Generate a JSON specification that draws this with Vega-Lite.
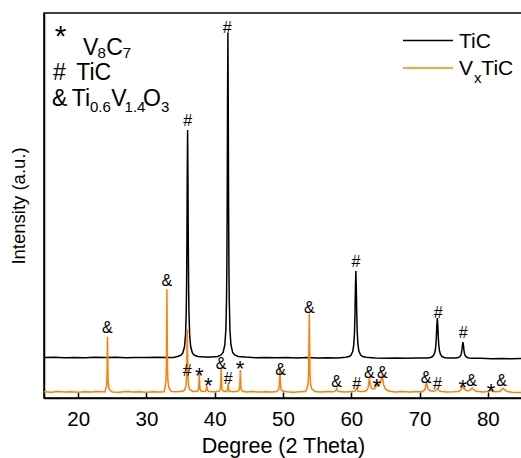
{
"$schema": "https://vega.github.io/schema/vega-lite/v6.json",
"width": 478, "height": 385,
"autosize": {"type": "none"},
"padding": {"left": 44, "top": 13, "right": 0, "bottom": 60},
"view": {"stroke": "#000000", "strokeWidth": 1.5},
"config": {"font": "Liberation Sans"},
"datasets": {
"curves": [
{"series":"TiC","x":15,"y":40.5},{"series":"TiC","x":16.5,"y":40.8},{"series":"TiC","x":18,"y":40.2},{"series":"TiC","x":19.5,"y":40.6},{"series":"TiC","x":21,"y":40.3},{"series":"TiC","x":22.5,"y":40.7},{"series":"TiC","x":24,"y":40.4},{"series":"TiC","x":25.5,"y":40.8},{"series":"TiC","x":27,"y":40.3},{"series":"TiC","x":28.5,"y":40.6},{"series":"TiC","x":30,"y":40.4},{"series":"TiC","x":31.5,"y":40.7},{"series":"TiC","x":33,"y":40.5},{"series":"TiC","x":34,"y":40.6},
{"series":"TiC","x":34.53,"y":41.5},{"series":"TiC","x":35.03,"y":42.75},{"series":"TiC","x":35.33,"y":45},{"series":"TiC","x":35.58,"y":51.2},{"series":"TiC","x":35.73,"y":63.25},{"series":"TiC","x":35.83,"y":86},{"series":"TiC","x":35.88,"y":110.5},{"series":"TiC","x":35.93,"y":154.25},{"series":"TiC","x":35.98,"y":222.5},{"series":"TiC","x":36.03,"y":268},{"series":"TiC","x":36.08,"y":222.5},{"series":"TiC","x":36.13,"y":154.25},{"series":"TiC","x":36.18,"y":110.5},{"series":"TiC","x":36.23,"y":86},{"series":"TiC","x":36.33,"y":63.25},{"series":"TiC","x":36.48,"y":51.2},{"series":"TiC","x":36.73,"y":45},{"series":"TiC","x":37.03,"y":42.75},{"series":"TiC","x":37.53,"y":41.5},
{"series":"TiC","x":38.5,"y":40.9},{"series":"TiC","x":39.5,"y":41.1},
{"series":"TiC","x":40.43,"y":41.6},{"series":"TiC","x":40.93,"y":43},{"series":"TiC","x":41.23,"y":45.5},{"series":"TiC","x":41.48,"y":53},{"series":"TiC","x":41.63,"y":68},{"series":"TiC","x":41.73,"y":98},{"series":"TiC","x":41.78,"y":132},{"series":"TiC","x":41.83,"y":195},{"series":"TiC","x":41.88,"y":295},{"series":"TiC","x":41.93,"y":365},{"series":"TiC","x":41.98,"y":295},{"series":"TiC","x":42.03,"y":195},{"series":"TiC","x":42.08,"y":132},{"series":"TiC","x":42.13,"y":98},{"series":"TiC","x":42.23,"y":68},{"series":"TiC","x":42.38,"y":53},{"series":"TiC","x":42.63,"y":45.5},{"series":"TiC","x":42.93,"y":43},{"series":"TiC","x":43.43,"y":41.6},
{"series":"TiC","x":44.5,"y":40.9},{"series":"TiC","x":46,"y":40.3},{"series":"TiC","x":47.5,"y":40.6},{"series":"TiC","x":49,"y":40.2},{"series":"TiC","x":50.5,"y":40.5},{"series":"TiC","x":52,"y":40.1},{"series":"TiC","x":53.5,"y":40.4},{"series":"TiC","x":55,"y":40.0},{"series":"TiC","x":56.5,"y":40.3},{"series":"TiC","x":58,"y":40.1},
{"series":"TiC","x":59.17,"y":40.65},{"series":"TiC","x":59.67,"y":41.4},{"series":"TiC","x":59.97,"y":42.9},{"series":"TiC","x":60.22,"y":46.7},{"series":"TiC","x":60.37,"y":53.7},{"series":"TiC","x":60.47,"y":65.8},{"series":"TiC","x":60.54,"y":83.5},{"series":"TiC","x":60.605,"y":109.6},{"series":"TiC","x":60.67,"y":127},{"series":"TiC","x":60.735,"y":109.6},{"series":"TiC","x":60.8,"y":83.5},{"series":"TiC","x":60.87,"y":65.8},{"series":"TiC","x":60.97,"y":53.7},{"series":"TiC","x":61.12,"y":46.7},{"series":"TiC","x":61.37,"y":42.9},{"series":"TiC","x":61.67,"y":41.4},{"series":"TiC","x":62.17,"y":40.65},
{"series":"TiC","x":63.5,"y":40.0},{"series":"TiC","x":65,"y":39.8},{"series":"TiC","x":66.5,"y":40.1},{"series":"TiC","x":68,"y":39.7},{"series":"TiC","x":69.5,"y":40.0},
{"series":"TiC","x":71.1,"y":40.1},{"series":"TiC","x":71.6,"y":40.59},{"series":"TiC","x":71.9,"y":41.47},{"series":"TiC","x":72.15,"y":43.73},{"series":"TiC","x":72.3,"y":47.76},{"series":"TiC","x":72.38,"y":52.5},{"series":"TiC","x":72.45,"y":59.85},{"series":"TiC","x":72.525,"y":71.9},{"series":"TiC","x":72.6,"y":80},{"series":"TiC","x":72.675,"y":71.9},{"series":"TiC","x":72.75,"y":59.85},{"series":"TiC","x":72.82,"y":52.5},{"series":"TiC","x":72.9,"y":47.76},{"series":"TiC","x":73.05,"y":43.73},{"series":"TiC","x":73.3,"y":41.47},{"series":"TiC","x":73.6,"y":40.59},{"series":"TiC","x":74.1,"y":40.1},{"series":"TiC","x":74.85,"y":39.9},
{"series":"TiC","x":75.35,"y":40.1},{"series":"TiC","x":75.65,"y":40.4},{"series":"TiC","x":75.9,"y":41.24},{"series":"TiC","x":76.05,"y":42.88},{"series":"TiC","x":76.13,"y":44.8},{"series":"TiC","x":76.2,"y":47.8},{"series":"TiC","x":76.275,"y":52.7},{"series":"TiC","x":76.35,"y":56},{"series":"TiC","x":76.425,"y":52.7},{"series":"TiC","x":76.5,"y":47.8},{"series":"TiC","x":76.57,"y":44.8},{"series":"TiC","x":76.65,"y":42.88},{"series":"TiC","x":76.8,"y":41.24},{"series":"TiC","x":77.05,"y":40.32},{"series":"TiC","x":77.35,"y":39.96},{"series":"TiC","x":77.85,"y":39.76},
{"series":"TiC","x":79,"y":39.7},{"series":"TiC","x":80.5,"y":39.3},{"series":"TiC","x":82,"y":39.6},{"series":"TiC","x":83.5,"y":39.2},{"series":"TiC","x":85,"y":39.4},

{"series":"VxTiC","x":15,"y":6.2},{"series":"VxTiC","x":16,"y":5.8},{"series":"VxTiC","x":17,"y":6.4},{"series":"VxTiC","x":18,"y":5.9},{"series":"VxTiC","x":19,"y":6.3},{"series":"VxTiC","x":20,"y":5.7},{"series":"VxTiC","x":21,"y":6.2},{"series":"VxTiC","x":22,"y":6.0},{"series":"VxTiC","x":23,"y":6.4},{"series":"VxTiC","x":23.9,"y":6.0},
{"series":"VxTiC","x":24.0,"y":8.2},{"series":"VxTiC","x":24.15,"y":11.5},{"series":"VxTiC","x":24.22,"y":19.8},{"series":"VxTiC","x":24.26,"y":39.2},{"series":"VxTiC","x":24.3,"y":61.3},{"series":"VxTiC","x":24.34,"y":39.2},{"series":"VxTiC","x":24.38,"y":19.8},{"series":"VxTiC","x":24.45,"y":11.5},{"series":"VxTiC","x":24.6,"y":8.2},
{"series":"VxTiC","x":25,"y":6.1},{"series":"VxTiC","x":26,"y":5.8},{"series":"VxTiC","x":27,"y":6.4},{"series":"VxTiC","x":28,"y":6.0},{"series":"VxTiC","x":29,"y":6.3},{"series":"VxTiC","x":30,"y":5.8},{"series":"VxTiC","x":31,"y":6.3},{"series":"VxTiC","x":32,"y":6.1},{"series":"VxTiC","x":32.6,"y":6.3},
{"series":"VxTiC","x":32.7,"y":10.1},{"series":"VxTiC","x":32.85,"y":16.3},{"series":"VxTiC","x":32.92,"y":31.7},{"series":"VxTiC","x":32.96,"y":67.6},{"series":"VxTiC","x":33.0,"y":108.7},{"series":"VxTiC","x":33.04,"y":67.6},{"series":"VxTiC","x":33.08,"y":31.7},{"series":"VxTiC","x":33.15,"y":16.3},{"series":"VxTiC","x":33.3,"y":10.1},{"series":"VxTiC","x":33.6,"y":6.6},
{"series":"VxTiC","x":34.2,"y":6.2},{"series":"VxTiC","x":34.9,"y":6.4},{"series":"VxTiC","x":35.4,"y":6.9},
{"series":"VxTiC","x":35.62,"y":8.5},{"series":"VxTiC","x":35.8,"y":12.3},{"series":"VxTiC","x":35.88,"y":21.6},{"series":"VxTiC","x":35.93,"y":43.5},{"series":"VxTiC","x":35.98,"y":68.5},{"series":"VxTiC","x":36.03,"y":43.5},{"series":"VxTiC","x":36.08,"y":21.6},{"series":"VxTiC","x":36.16,"y":12.3},{"series":"VxTiC","x":36.34,"y":8.5},{"series":"VxTiC","x":36.8,"y":6.6},{"series":"VxTiC","x":37.3,"y":6.5},
{"series":"VxTiC","x":37.44,"y":6.7},{"series":"VxTiC","x":37.59,"y":7.8},{"series":"VxTiC","x":37.66,"y":10.5},{"series":"VxTiC","x":37.7,"y":16.8},{"series":"VxTiC","x":37.74,"y":24},{"series":"VxTiC","x":37.78,"y":16.8},{"series":"VxTiC","x":37.82,"y":10.5},{"series":"VxTiC","x":37.89,"y":7.8},{"series":"VxTiC","x":38.04,"y":6.7},
{"series":"VxTiC","x":38.4,"y":6.4},{"series":"VxTiC","x":38.6,"y":6.6},{"series":"VxTiC","x":38.73,"y":7.5},{"series":"VxTiC","x":38.79,"y":9.6},{"series":"VxTiC","x":38.85,"y":12},{"series":"VxTiC","x":38.91,"y":9.6},{"series":"VxTiC","x":38.97,"y":7.5},{"series":"VxTiC","x":39.1,"y":6.6},{"series":"VxTiC","x":39.4,"y":6.2},
{"series":"VxTiC","x":40.0,"y":6.3},{"series":"VxTiC","x":40.5,"y":6.8},
{"series":"VxTiC","x":40.65,"y":7.0},{"series":"VxTiC","x":40.8,"y":8.4},{"series":"VxTiC","x":40.87,"y":12},{"series":"VxTiC","x":40.91,"y":20.4},{"series":"VxTiC","x":40.95,"y":30},{"series":"VxTiC","x":40.99,"y":20.4},{"series":"VxTiC","x":41.03,"y":12},{"series":"VxTiC","x":41.1,"y":8.4},{"series":"VxTiC","x":41.25,"y":7.0},{"series":"VxTiC","x":41.5,"y":6.7},
{"series":"VxTiC","x":41.67,"y":6.4},{"series":"VxTiC","x":41.82,"y":6.9},{"series":"VxTiC","x":41.89,"y":8.25},{"series":"VxTiC","x":41.93,"y":11.4},{"series":"VxTiC","x":41.97,"y":15},{"series":"VxTiC","x":42.01,"y":11.4},{"series":"VxTiC","x":42.05,"y":8.25},{"series":"VxTiC","x":42.12,"y":6.9},{"series":"VxTiC","x":42.27,"y":6.4},
{"series":"VxTiC","x":42.9,"y":6.3},
{"series":"VxTiC","x":43.45,"y":6.9},{"series":"VxTiC","x":43.6,"y":8.2},{"series":"VxTiC","x":43.67,"y":11.5},{"series":"VxTiC","x":43.71,"y":19.2},{"series":"VxTiC","x":43.75,"y":28},{"series":"VxTiC","x":43.79,"y":19.2},{"series":"VxTiC","x":43.83,"y":11.5},{"series":"VxTiC","x":43.9,"y":8.2},{"series":"VxTiC","x":44.05,"y":6.9},
{"series":"VxTiC","x":44.6,"y":6.0},{"series":"VxTiC","x":45.5,"y":6.4},{"series":"VxTiC","x":46.5,"y":5.9},{"series":"VxTiC","x":47.5,"y":6.3},{"series":"VxTiC","x":48.5,"y":6.0},{"series":"VxTiC","x":49.1,"y":6.5},
{"series":"VxTiC","x":49.16,"y":6.9},{"series":"VxTiC","x":49.35,"y":8.3},{"series":"VxTiC","x":49.45,"y":11.8},{"series":"VxTiC","x":49.5,"y":19.8},{"series":"VxTiC","x":49.55,"y":29},{"series":"VxTiC","x":49.6,"y":19.8},{"series":"VxTiC","x":49.65,"y":11.8},{"series":"VxTiC","x":49.75,"y":8.3},{"series":"VxTiC","x":49.94,"y":6.9},
{"series":"VxTiC","x":50.5,"y":6.2},{"series":"VxTiC","x":51.5,"y":5.8},{"series":"VxTiC","x":52.5,"y":6.3},{"series":"VxTiC","x":53.3,"y":6.6},
{"series":"VxTiC","x":53.49,"y":9.1},{"series":"VxTiC","x":53.67,"y":13.9},{"series":"VxTiC","x":53.75,"y":25.7},{"series":"VxTiC","x":53.8,"y":53.2},{"series":"VxTiC","x":53.85,"y":84.7},{"series":"VxTiC","x":53.9,"y":53.2},{"series":"VxTiC","x":53.95,"y":25.7},{"series":"VxTiC","x":54.03,"y":13.9},{"series":"VxTiC","x":54.21,"y":9.1},
{"series":"VxTiC","x":54.7,"y":6.5},{"series":"VxTiC","x":55.5,"y":6.1},{"series":"VxTiC","x":56.5,"y":6.4},{"series":"VxTiC","x":57.3,"y":6.2},
{"series":"VxTiC","x":57.5,"y":6.4},{"series":"VxTiC","x":57.7,"y":7.0},{"series":"VxTiC","x":57.78,"y":8.2},{"series":"VxTiC","x":57.86,"y":9.7},{"series":"VxTiC","x":57.94,"y":8.2},{"series":"VxTiC","x":58.02,"y":7.0},{"series":"VxTiC","x":58.25,"y":6.4},
{"series":"VxTiC","x":59.0,"y":6.0},{"series":"VxTiC","x":59.8,"y":6.3},
{"series":"VxTiC","x":60.4,"y":6.5},{"series":"VxTiC","x":60.55,"y":7.0},{"series":"VxTiC","x":60.66,"y":8.4},{"series":"VxTiC","x":60.75,"y":10},{"series":"VxTiC","x":60.84,"y":8.4},{"series":"VxTiC","x":60.95,"y":7.0},{"series":"VxTiC","x":61.15,"y":6.5},
{"series":"VxTiC","x":61.7,"y":6.4},{"series":"VxTiC","x":62.0,"y":6.8},{"series":"VxTiC","x":62.3,"y":8.0},{"series":"VxTiC","x":62.45,"y":10},{"series":"VxTiC","x":62.55,"y":14},{"series":"VxTiC","x":62.65,"y":21},{"series":"VxTiC","x":62.75,"y":15},{"series":"VxTiC","x":62.9,"y":10.5},{"series":"VxTiC","x":63.1,"y":9.0},{"series":"VxTiC","x":63.4,"y":9.5},{"series":"VxTiC","x":63.55,"y":11},{"series":"VxTiC","x":63.7,"y":13},{"series":"VxTiC","x":63.85,"y":12},{"series":"VxTiC","x":64.05,"y":12.5},{"series":"VxTiC","x":64.25,"y":15},{"series":"VxTiC","x":64.4,"y":19},{"series":"VxTiC","x":64.5,"y":23},{"series":"VxTiC","x":64.6,"y":19},{"series":"VxTiC","x":64.75,"y":13},{"series":"VxTiC","x":64.95,"y":9.5},{"series":"VxTiC","x":65.3,"y":7.5},{"series":"VxTiC","x":65.8,"y":6.6},
{"series":"VxTiC","x":66.5,"y":6.1},{"series":"VxTiC","x":67.5,"y":6.4},{"series":"VxTiC","x":68.5,"y":5.9},{"series":"VxTiC","x":69.5,"y":6.3},{"series":"VxTiC","x":70.4,"y":6.2},
{"series":"VxTiC","x":70.5,"y":7.0},{"series":"VxTiC","x":70.75,"y":8.0},{"series":"VxTiC","x":70.85,"y":10.5},{"series":"VxTiC","x":70.93,"y":13.5},{"series":"VxTiC","x":71.0,"y":16.3},{"series":"VxTiC","x":71.07,"y":13.5},{"series":"VxTiC","x":71.17,"y":10.5},{"series":"VxTiC","x":71.3,"y":8.5},{"series":"VxTiC","x":71.6,"y":7.3},
{"series":"VxTiC","x":72.0,"y":6.8},{"series":"VxTiC","x":72.35,"y":7.4},{"series":"VxTiC","x":72.5,"y":8.3},{"series":"VxTiC","x":72.6,"y":9},{"series":"VxTiC","x":72.7,"y":8.3},{"series":"VxTiC","x":72.85,"y":7.4},{"series":"VxTiC","x":73.2,"y":6.6},
{"series":"VxTiC","x":74.0,"y":6.0},{"series":"VxTiC","x":75.0,"y":6.2},{"series":"VxTiC","x":75.7,"y":6.6},
{"series":"VxTiC","x":75.95,"y":7.3},{"series":"VxTiC","x":76.15,"y":9},{"series":"VxTiC","x":76.25,"y":10.3},{"series":"VxTiC","x":76.35,"y":11.3},{"series":"VxTiC","x":76.45,"y":10.3},{"series":"VxTiC","x":76.6,"y":8.8},{"series":"VxTiC","x":76.85,"y":7.5},{"series":"VxTiC","x":77.15,"y":7.3},
{"series":"VxTiC","x":77.4,"y":7.7},{"series":"VxTiC","x":77.55,"y":9},{"series":"VxTiC","x":77.7,"y":10},{"series":"VxTiC","x":77.85,"y":8.8},{"series":"VxTiC","x":78.1,"y":7.2},{"series":"VxTiC","x":78.6,"y":6.4},
{"series":"VxTiC","x":79.3,"y":6.0},{"series":"VxTiC","x":79.9,"y":6.5},{"series":"VxTiC","x":80.15,"y":7.4},{"series":"VxTiC","x":80.3,"y":8},{"series":"VxTiC","x":80.45,"y":7.4},{"series":"VxTiC","x":80.7,"y":6.5},{"series":"VxTiC","x":81.3,"y":6.2},
{"series":"VxTiC","x":81.8,"y":6.8},{"series":"VxTiC","x":82.0,"y":8.2},{"series":"VxTiC","x":82.12,"y":9.2},{"series":"VxTiC","x":82.22,"y":9.7},{"series":"VxTiC","x":82.35,"y":9.0},{"series":"VxTiC","x":82.55,"y":7.5},{"series":"VxTiC","x":82.9,"y":6.4},
{"series":"VxTiC","x":83.6,"y":5.8},{"series":"VxTiC","x":84.3,"y":5.6},{"series":"VxTiC","x":85,"y":5.5}
],
"peaks": [
{"t":"#","x":36.04,"y":278},{"t":"#","x":41.84,"y":371.3},{"t":"#","x":60.69,"y":137},{"t":"#","x":72.74,"y":86.3},{"t":"#","x":76.4,"y":66.3},
{"t":"&","x":24.27,"y":71.3},{"t":"&","x":32.97,"y":118},{"t":"#","x":35.98,"y":28},{"t":"*","x":37.74,"y":27.3},{"t":"*","x":39.06,"y":17},{"t":"&","x":40.92,"y":34.7},{"t":"#","x":41.99,"y":19.7},{"t":"*","x":43.7,"y":34},{"t":"&","x":49.66,"y":29},{"t":"&","x":53.85,"y":91.3},{"t":"&","x":57.86,"y":17},{"t":"#","x":60.79,"y":14.7},{"t":"&","x":62.63,"y":26.3},{"t":"*","x":63.72,"y":16.3},{"t":"&","x":64.54,"y":26.3},{"t":"&","x":70.94,"y":21.3},{"t":"#","x":72.62,"y":15},{"t":"*","x":76.31,"y":14.7},{"t":"&","x":77.63,"y":18},{"t":"*","x":80.46,"y":10.7},{"t":"&","x":82.02,"y":18}
],
"notes": [
{"role":"big","t":"V","x":20.7,"y":343},{"role":"big","t":"C","x":24.1,"y":343},{"role":"big","t":"#","x":16.32,"y":318},{"role":"big","t":"TiC","x":19.72,"y":318},{"role":"big","t":"&","x":16.18,"y":292},{"role":"big","t":"Ti","x":19.06,"y":292},{"role":"big","t":"V","x":24.85,"y":292},{"role":"big","t":"O","x":29.5,"y":292},
{"role":"sub","t":"8","x":22.85,"y":340},{"role":"sub","t":"7","x":26.55,"y":340},{"role":"sub","t":"0.6","x":21.74,"y":286},{"role":"sub","t":"1.4","x":26.8,"y":286},{"role":"sub","t":"3","x":32.15,"y":286},{"role":"sub","t":"x","x":77.97,"y":315},
{"role":"star","t":"*","x":17.42,"y":369},
{"role":"leg","t":"TiC","x":75.77,"y":350.5},{"role":"leg","t":"V","x":75.77,"y":323},{"role":"leg","t":"TiC","x":79.05,"y":323}
],
"leglines": [
{"series":"TiC","x1":67.57,"x2":74.89,"y":357.5},
{"series":"VxTiC","x1":67.57,"x2":74.89,"y":330}
]
},
"layer": [
{
"data": {"name": "curves"},
"mark": {"type": "line", "strokeWidth": 1.5, "clip": true},
"encoding": {
"x": {"field": "x", "type": "quantitative", "scale": {"domain": [15, 85], "nice": false, "zero": false},
"axis": {"title": "Degree (2 Theta)", "values": [20,25,30,35,40,45,50,55,60,65,70,75,80], "labelExpr": "datum.value % 10 === 0 ? datum.label : ''", "tickSize": -6, "tickWidth": 1.5, "tickColor": "#000000", "domainColor": "#000000", "domainWidth": 1.5, "labelFontSize": 20.5, "labelColor": "#000000", "labelPadding": 33, "labelBaseline": "alphabetic", "labelFlush": false, "labelOverlap": false, "grid": false, "titleFontSize": 21.5, "titleFontWeight": "normal", "titleColor": "#000000", "titleY": 54, "titleBaseline": "alphabetic"}},
"y": {"field": "y", "type": "quantitative", "scale": {"domain": [0, 385], "nice": false, "zero": false},
"axis": {"title": "Intensity (a.u.)", "labels": false, "ticks": false, "grid": false, "domainColor": "#000000", "domainWidth": 1.5, "titleFontSize": 18.5, "titleFontWeight": "normal", "titleColor": "#000000", "titlePadding": 16}},
"color": {"field": "series", "type": "nominal", "scale": {"domain": ["TiC", "VxTiC"], "range": ["#000000", "#ff8000"]}, "legend": null}
}
},
{
"data": {"name": "leglines"},
"mark": {"type": "rule", "strokeWidth": 1.5},
"encoding": {
"x": {"field": "x1", "type": "quantitative"},
"x2": {"field": "x2"},
"y": {"field": "y", "type": "quantitative"},
"color": {"field": "series", "type": "nominal", "legend": null}
}
},
{
"data": {"name": "peaks"},
"transform": [{"filter": "datum.t !== '*'"}],
"mark": {"type": "text", "fontSize": 16, "align": "center", "baseline": "alphabetic", "dy": 6, "color": "#000000"},
"encoding": {
"x": {"field": "x", "type": "quantitative"},
"y": {"field": "y", "type": "quantitative"},
"text": {"field": "t"}
}
},
{
"data": {"name": "peaks"},
"transform": [{"filter": "datum.t === '*'"}],
"mark": {"type": "text", "fontSize": 22, "align": "center", "baseline": "alphabetic", "dy": 12, "color": "#000000"},
"encoding": {
"x": {"field": "x", "type": "quantitative"},
"y": {"field": "y", "type": "quantitative"},
"text": {"field": "t"}
}
},
{
"data": {"name": "notes"},
"transform": [{"filter": "datum.role === 'big'"}],
"mark": {"type": "text", "fontSize": 23, "align": "left", "baseline": "alphabetic", "color": "#000000"},
"encoding": {
"x": {"field": "x", "type": "quantitative"},
"y": {"field": "y", "type": "quantitative"},
"text": {"field": "t"}
}
},
{
"data": {"name": "notes"},
"transform": [{"filter": "datum.role === 'sub'"}],
"mark": {"type": "text", "fontSize": 15, "align": "left", "baseline": "alphabetic", "color": "#000000"},
"encoding": {
"x": {"field": "x", "type": "quantitative"},
"y": {"field": "y", "type": "quantitative"},
"text": {"field": "t"}
}
},
{
"data": {"name": "notes"},
"transform": [{"filter": "datum.role === 'star'"}],
"mark": {"type": "text", "fontSize": 30, "align": "center", "baseline": "alphabetic", "dy": 17, "color": "#000000"},
"encoding": {
"x": {"field": "x", "type": "quantitative"},
"y": {"field": "y", "type": "quantitative"},
"text": {"field": "t"}
}
},
{
"data": {"name": "notes"},
"transform": [{"filter": "datum.role === 'leg'"}],
"mark": {"type": "text", "fontSize": 21, "align": "left", "baseline": "alphabetic", "color": "#000000"},
"encoding": {
"x": {"field": "x", "type": "quantitative"},
"y": {"field": "y", "type": "quantitative"},
"text": {"field": "t"}
}
}
]
}
